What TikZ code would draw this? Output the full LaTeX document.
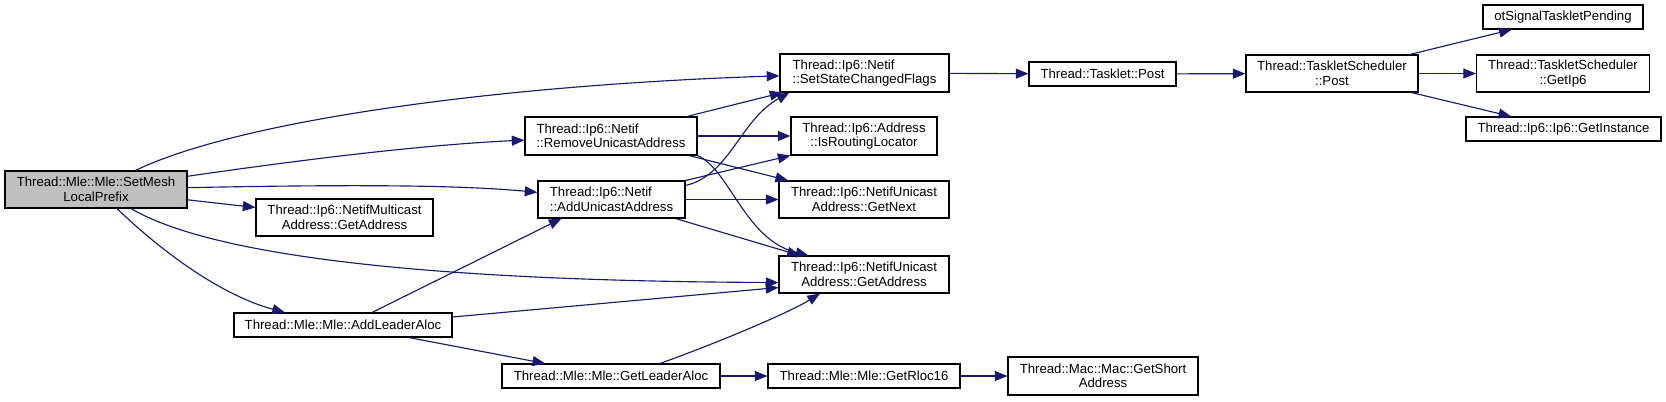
\documentclass[tikz,border=0pt]{standalone}
\usepackage{fontspec}
\setmainfont{Liberation Sans}
\usetikzlibrary{arrows.meta,calc}
\definecolor{edgeblue}{HTML}{191970}
\definecolor{mainfill}{HTML}{BFBFBF}
\begin{document}
\begin{tikzpicture}[x=0.75pt,y=-0.75pt,
  fn/.style={draw=black,line width=0.8pt,fill=white,inner sep=0pt,align=center,
    font=\fontsize{9.9pt}{10.9pt}\selectfont},
  fnl/.style={fn,align=left},
  sz/.style 2 args={minimum width=#1*0.75pt,minimum height=#2*0.75pt},
  edge/.style={draw=edgeblue,line width=0.85pt,-{Triangle[length=9.5pt,width=7.5pt]}},
]
\useasboundingbox (0,0) rectangle (1666,401);
\fill[white] (0,0) rectangle (1666,401);

% nodes
\node[fn,sz={182}{37},fill=mainfill] (setmesh) at (96,189.5) {Thread::Mle::Mle::SetMesh\\LocalPrefix};
\node[fn,sz={177}{37}] (multicast) at (344.5,217.5) {Thread::Ip6::NetifMulticast\\Address::GetAddress};
\node[fn,sz={218}{24}] (addleader) at (343,325) {Thread::Mle::Mle::AddLeaderAloc};
\node[fnl,sz={169}{38}] (setstate) at (864.5,73) {Thread::Ip6::Netif\\::SetStateChangedFlags};
\node[fnl,sz={172}{38}] (remove) at (611,136) {Thread::Ip6::Netif\\::RemoveUnicastAddress};
\node[fn,sz={146}{38}] (isrouting) at (864,136) {Thread::Ip6::Address\\::IsRoutingLocator};
\node[fnl,sz={147}{37}] (addunicast) at (611.5,199.5) {Thread::Ip6::Netif\\::AddUnicastAddress};
\node[fn,sz={170}{37}] (getnext) at (864,199.5) {Thread::Ip6::NetifUnicast\\Address::GetNext};
\node[fn,sz={170}{37}] (getaddr) at (864,274.5) {Thread::Ip6::NetifUnicast\\Address::GetAddress};
\node[fn,sz={218}{24}] (getleader) at (611,376) {Thread::Mle::Mle::GetLeaderAloc};
\node[fn,sz={192}{24}] (getrloc) at (864,376) {Thread::Mle::Mle::GetRloc16};
\node[fn,sz={190}{38}] (getshort) at (1103,376) {Thread::Mac::Mac::GetShort\\Address};
\node[fn,sz={147}{24}] (tpost) at (1102.5,74) {Thread::Tasklet::Post};
\node[fn,sz={172}{37}] (tspost) at (1332,73.5) {Thread::TaskletScheduler\\::Post};
\node[fn,sz={160}{24}] (otsignal) at (1563,17) {otSignalTaskletPending};
\node[fn,sz={173}{37}] (getip6) at (1563,73.5) {Thread::TaskletScheduler\\::GetIp6};
\node[fn,sz={195}{24}] (getinst) at (1563.5,129) {Thread::Ip6::Ip6::GetInstance};

% edges from SetMeshLocalPrefix
\draw[edge] (setmesh) .. controls (240,120) and (500,85) .. (setstate);
\draw[edge] (setmesh) .. controls (300,160) and (420,145) .. (remove);
\draw[edge] (setmesh) .. controls (320,185) and (450,184) .. (addunicast);
\draw[edge] (setmesh) -- (multicast);
\draw[edge] ($(setmesh.south)+(35,0)$) .. controls (210,255) and (420,281) .. ($(getaddr.west)+(0,8)$);
\draw[edge] ($(setmesh.south)+(21,0)$) .. controls (160,250) and (220,295) .. ($(addleader.north)+(-58,0)$);

% edges from RemoveUnicastAddress
\draw[edge] ($(remove.north)+(76,0)$) -- ($(setstate.south west)+(3,0)$);
\draw[edge] (remove.east) -- (isrouting.west);
\draw[edge] (remove) -- (getnext);
\draw[edge] (remove.south east) .. controls (730,170) and (745,240) .. ($(getaddr.north west)+(30,0)$);

% edges from AddUnicastAddress
\draw[edge] ($(addunicast.east)+(0,-14)$) .. controls (730,175) and (740,120) .. ($(setstate.south west)+(10,0)$);
\draw[edge] (addunicast.north east) -- (isrouting.south west);
\draw[edge] (addunicast.east) -- (getnext.west);
\draw[edge] (addunicast) -- (getaddr);

% edges from AddLeaderAloc
\draw[edge] ($(addleader.north)+(29,0)$) -- ($(addunicast.south)+(-50,0)$);
\draw[edge] ($(addleader.east)+(0,-8)$) -- ($(getaddr.west)+(0,13)$);
\draw[edge] (addleader) -- (getleader);

% edges from GetLeaderAloc
\draw[edge] ($(getleader.north)+(49,0)$) .. controls (725,340) and (790,312) .. ($(getaddr.south)+(-44,0)$);
\draw[edge] (getleader) -- (getrloc);
\draw[edge] (getrloc) -- (getshort);

% tasklet chain
\draw[edge] (setstate) -- (tpost);
\draw[edge] (tpost) -- (tspost);
\draw[edge] (tspost) -- (otsignal);
\draw[edge] (tspost) -- (getip6);
\draw[edge] (tspost) -- (getinst);
\end{tikzpicture}
\end{document}
